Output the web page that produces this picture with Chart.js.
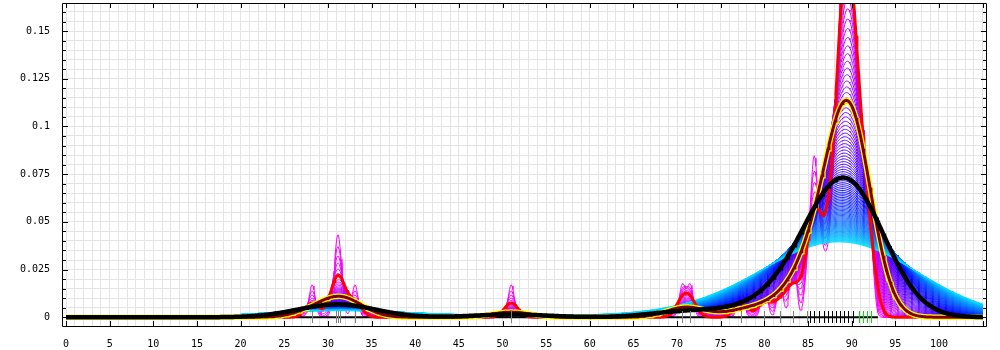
<!DOCTYPE html>
<html>
<head>
<meta charset="utf-8">
<script src="https://cdn.jsdelivr.net/npm/chart.js@4.4.0/dist/chart.umd.min.js"></script>
<style>
    html, body { margin: 0; padding: 0; background: #fff; }
    #wrap { width: 1000px; height: 350px; }
</style>
</head>
<body>
<div id="wrap"><canvas id="densityChart" width="1000" height="350"></canvas></div>
<script>
const sampleValues = [28.2, 30.9, 31.15, 31.4, 33.1, 51.0, 70.6, 71.5, 77.3, 80.0, 81.8, 83.3, 84.9,
                      85.25, 85.7, 86.3, 86.85, 87.3, 87.8, 88.2, 88.7, 89.1, 89.6, 90.1,
                      90.8, 91.25, 91.7, 92.2];
const sampleCounts = [1, 1, 1, 1, 1, 1, 1, 1, 1, 1, 1, 2, 1,
                      1, 4, 2, 1, 1, 2, 3, 5, 7, 8, 8,
                      4, 3, 2, 2];
const rugColors = ['#808080', '#808080', '#808080', '#808080', '#808080', '#808080', '#808080', '#808080',
                   '#808080', '#808080', '#808080', '#808080', '#808080',
                   '#000000', '#000000', '#000000', '#000000', '#000000', '#000000', '#000000', '#000000',
                   '#000000', '#000000', '#000000',
                   '#00e000', '#00e000', '#00e000', '#00e000'];

// Bandwidths: a sweep from narrow (magenta) to wide (cyan), plus three highlighted ones
const sweepCount = 100;
const sweepMinBw = 0.35;
const sweepMaxBw = 8.5;
const sweepRange = [20, 105];
const highlightRange = [0, 105];
const redBw = 0.8;
const maroonBw = 2.2;
const blackBw = 4.1;
const baselineRange = [20, 93];

// Axis tick labels
const xTickLabels = ['0', '5', '10', '15', '20', '25', '30', '35', '40', '45', '50',
                     '55', '60', '65', '70', '75', '80', '85', '90', '95', '100'];
const yTickLabels = ['0', '0.025', '0.05', '0.075', '0.1', '0.125', '0.15'];

const totalCount = sampleCounts.reduce((a, b) => a + b, 0);

// Gaussian kernel density of the sample at x
function density(x, bw) {
    let s = 0;
    for (let i = 0; i < sampleValues.length; i++) {
        const u = (x - sampleValues[i]) / bw;
        s += sampleCounts[i] * Math.exp(-0.5 * u * u);
    }
    return s / (totalCount * bw * Math.sqrt(2 * Math.PI));
}

function curve(bw, range) {
    const pts = [];
    for (let k = Math.round(range[0] * 10); k <= Math.round(range[1] * 10); k++) {
        const x = k / 10;
        pts.push({ x: x, y: density(x, bw) });
    }
    return pts;
}

function lineSet(data, color, width, order) {
    return {
        data: data,
        borderColor: color,
        borderWidth: width,
        pointRadius: 0,
        tension: 0,
        fill: false,
        order: order
    };
}

const datasets = [];
datasets.push(lineSet(curve(blackBw, highlightRange), '#000000', 4.5, 0));
datasets.push(lineSet(curve(maroonBw, highlightRange), '#800000', 3, 1));
datasets.push(lineSet(curve(maroonBw, highlightRange), '#ffff00', 5.5, 2));
datasets.push(lineSet(curve(redBw, highlightRange), '#ff0000', 3, 3));
datasets.push(lineSet(baselineRange.map(v => ({ x: v, y: 0 })), '#000000', 2, 4));

// the sweep: narrow bandwidths drawn first, wide ones on top
for (let i = 0; i < sweepCount; i++) {
    const t = i / (sweepCount - 1);
    const bw = sweepMinBw + (sweepMaxBw - sweepMinBw) * t;
    const hue = 300 - 112 * t;
    datasets.push(lineSet(curve(bw, sweepRange), `hsl(${hue}, 100%, 50%)`, 1, 10 + sweepCount - i));
}

// Frame, inward tick marks and the rug
const frameAndRug = {
    id: 'frameAndRug',
    afterDatasetsDraw(chart) {
        const { ctx, chartArea: a, scales: { x, y } } = chart;
        ctx.save();
        ctx.lineWidth = 1;

        // rug
        const y0 = Math.round(y.getPixelForValue(0));
        sampleValues.forEach((v, i) => {
            const px = Math.round(x.getPixelForValue(v)) + 0.5;
            ctx.strokeStyle = rugColors[i];
            ctx.beginPath();
            ctx.moveTo(px, y0 - 6);
            ctx.lineTo(px, y0 + 6);
            ctx.stroke();
        });

        ctx.strokeStyle = '#000';
        ctx.beginPath();
        ctx.rect(a.left + 0.5, a.top + 0.5, a.right - a.left - 1, a.bottom - a.top - 1);
        for (let v = 0; v <= 105; v += 5) {
            const px = Math.round(x.getPixelForValue(v)) + 0.5;
            ctx.moveTo(px, a.bottom);
            ctx.lineTo(px, a.bottom - 6);
            ctx.moveTo(px, a.top);
            ctx.lineTo(px, a.top + 5);
        }
        for (let k = 0; k <= 32; k++) {
            const py = Math.round(y.getPixelForValue(k * 0.005)) + 0.5;
            const len = k % 5 === 0 ? 6 : 4;
            ctx.moveTo(a.left, py);
            ctx.lineTo(a.left + len, py);
            ctx.moveTo(a.right, py);
            ctx.lineTo(a.right - len, py);
        }
        ctx.stroke();
        ctx.restore();
    }
};

// force the axis boxes to fixed sizes so the plot area lands where the original has it
function fixAxis(size) {
    return s => {
        if (s.isHorizontal()) s.height = size; else s.width = size;
        s.paddingTop = 0;
        s.paddingBottom = 0;
        s.paddingLeft = 0;
        s.paddingRight = 0;
    };
}

const tickFont = { family: 'DejaVu Sans Mono', size: 10 };

const chartContext = document.getElementById('densityChart').getContext('2d');
const chart = new Chart(chartContext, {
    type: 'line',
    data: { datasets: datasets },
    options: {
        responsive: false,
        animation: false,
        events: [],
        layout: { autoPadding: false, padding: { top: 3, right: 13, bottom: 0, left: 0 } },
        plugins: { legend: { display: false }, tooltip: { enabled: false } },
        scales: {
            x: {
                type: 'linear',
                min: -0.46,
                max: 105.5,
                afterFit: fixAxis(23),
                border: { display: false },
                grid: { color: '#e4e4e4', drawTicks: false },
                ticks: {
                    stepSize: 1,
                    includeBounds: false,
                    autoSkip: false,
                    maxRotation: 0,
                    padding: 11,
                    color: '#000',
                    font: tickFont,
                    callback: v => {
                        const lbl = String(Math.round(v));
                        return Math.abs(v - Math.round(v)) < 1e-6 && xTickLabels.includes(lbl) ? lbl : '';
                    }
                }
            },
            y: {
                type: 'linear',
                min: -0.0051,
                max: 0.1647,
                afterFit: fixAxis(62),
                border: { display: false },
                grid: { color: '#e4e4e4', drawTicks: false },
                ticks: {
                    stepSize: 0.005,
                    includeBounds: false,
                    autoSkip: false,
                    padding: 12,
                    color: '#000',
                    font: tickFont,
                    callback: v => {
                        const lbl = String(+v.toFixed(3));
                        return yTickLabels.includes(lbl) ? lbl : '';
                    }
                }
            }
        }
    },
    plugins: [frameAndRug]
});
</script>
</body>
</html>
